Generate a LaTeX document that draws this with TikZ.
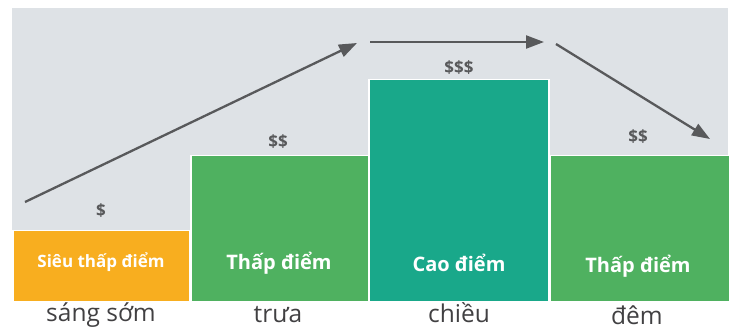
\documentclass[tikz,border=0pt]{standalone}
\usepackage{fontspec}
\setmainfont{Open Sans}
\definecolor{bggray}{HTML}{DEE2E6}
\definecolor{barorange}{HTML}{F8AE1F}
\definecolor{bargreen}{HTML}{4FB160}
\definecolor{barteal}{HTML}{19A88A}
\definecolor{arrowgray}{HTML}{58595B}
\definecolor{textgray}{HTML}{414042}
\tikzset{
	bar/.style={draw=white, line width=1.5pt, anchor=south west, inner sep=0pt},
	barlabel/.style={text=white, font=\bfseries\fontsize{20}{20}\selectfont},
	price/.style={text=arrowgray, font=\bfseries\fontsize{17}{17}\selectfont},
	period/.style={text=textgray, font=\fontsize{24.5}{24.5}\selectfont},
	trend/.style={draw=arrowgray, line width=2.3pt, -{Triangle[length=18pt,width=13pt]}}
}
\usetikzlibrary{arrows.meta}
\begin{document}
\begin{tikzpicture}[x=1pt,y=-1pt]
	\useasboundingbox (0,0) rectangle (737,330);
	\fill[bggray] (12,8) rectangle (728,302);
	% bars
	\node[bar, fill=barorange, minimum width=177pt, minimum height=71pt] (early) at (12,302) {};
	\node[bar, fill=bargreen, minimum width=178pt, minimum height=146pt] (noon) at (190,302) {};
	\node[bar, fill=barteal, minimum width=180pt, minimum height=222pt] (afternoon) at (368,302) {};
	\node[bar, fill=bargreen, minimum width=180pt, minimum height=146pt] (night) at (549,302) {};
	% texts inside the bars
	\node[barlabel, font=\bfseries\fontsize{17}{17}\selectfont] (earlytxt) at (101,262) {Siêu thấp điểm};
	\node[barlabel] (noontxt) at (279,263) {Thấp điểm};
	\node[barlabel] (afternoontxt) at (459,263) {Cao điểm};
	\node[barlabel] (nighttxt) at (638,266) {Thấp điểm};
	% prices
	\node[price] (p1) at (101,211) {\$};
	\node[price] (p2) at (278,142) {\$\$};
	\node[price] (p3) at (459,68) {\$\$\$};
	\node[price] (p4) at (638,137) {\$\$};
	% periods
	\node[period] (t1) at (101,315) {sáng sớm};
	\node[period] (t2) at (278,315) {trưa};
	\node[period] (t3) at (459,313) {chiều};
	\node[period] (t4) at (637,315) {đêm};
	% trend arrows
	\path (25,202) coordinate (A)
	++ (332,-159) coordinate (B)
	++ (13,-1) coordinate (C)
	++ (174,0) coordinate (D)
	++ (12,2) coordinate (E)
	++ (154,95) coordinate (F);
	\draw[trend] (A) -- (B);
	\draw[trend] (C) -- (D);
	\draw[trend] (E) -- (F);
\end{tikzpicture}
\end{document}
